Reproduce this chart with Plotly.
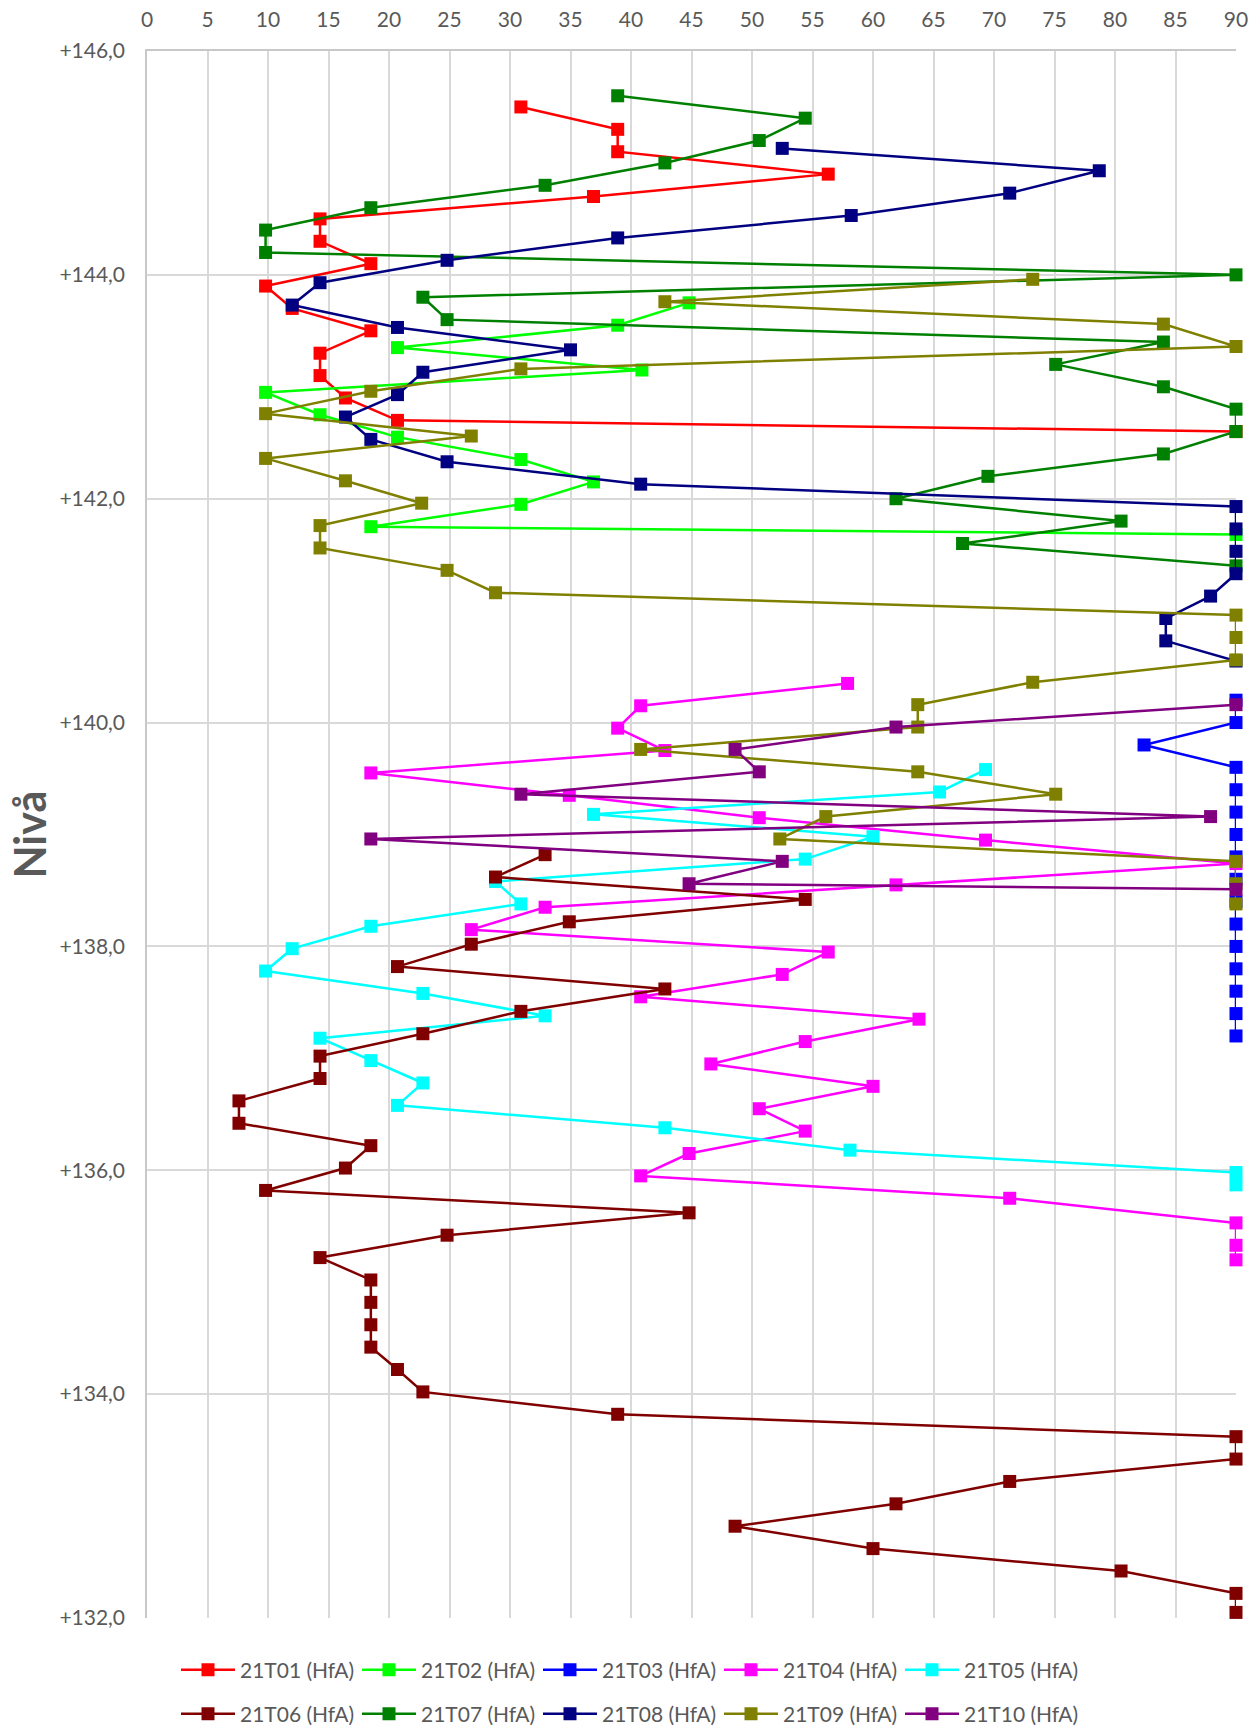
import plotly.graph_objects as go

# ---------------- data ----------------
names = ["21T01 (HfA)", "21T02 (HfA)", "21T03 (HfA)", "21T04 (HfA)", "21T05 (HfA)",
         "21T06 (HfA)", "21T07 (HfA)", "21T08 (HfA)", "21T09 (HfA)", "21T10 (HfA)"]
colors = ["#FF0000", "#00FF00", "#0000FF", "#FF00FF", "#00FFFF",
          "#800000", "#008000", "#000080", "#808000", "#800080"]

t01_x = [30.9, 38.9, 38.9, 56.3, 36.9, 14.3, 14.3, 18.5, 9.8, 12.0, 18.5, 14.3, 14.3, 16.4, 20.7, 90]
t01_y = [145.5, 145.3, 145.1, 144.9, 144.7, 144.5, 144.3, 144.1, 143.9, 143.7, 143.5, 143.3, 143.1,
         142.9, 142.7, 142.6]

t02_x = [44.8, 38.9, 20.7, 40.9, 9.8, 14.3, 20.7, 30.9, 36.9, 30.9, 18.5, 90]
t02_y = [143.75, 143.55, 143.35, 143.15, 142.95, 142.75, 142.55, 142.35, 142.15, 141.95, 141.75, 141.68]

t03_x = [90, 90, 82.4, 90, 90, 90, 90, 90, 90, 90, 90, 90, 90, 90, 90, 90]
t03_y = [140.2, 140.0, 139.8, 139.6, 139.4, 139.2, 139.0, 138.8, 138.6, 138.4, 138.2, 138.0, 137.8,
         137.6, 137.4, 137.2]

t04_x = [57.9, 40.8, 38.9, 42.8, 18.5, 34.9, 50.6, 69.3, 90, 61.9, 32.9, 26.8, 56.3, 52.5, 40.8,
         63.8, 54.4, 46.6, 60.0, 50.6, 54.4, 44.8, 40.8, 71.3, 90, 90, 90]
t04_y = [140.35, 140.15, 139.95, 139.75, 139.55, 139.35, 139.15, 138.95, 138.74, 138.55, 138.35,
         138.15, 137.95, 137.75, 137.55, 137.35, 137.15, 136.95, 136.75, 136.55, 136.35, 136.15,
         135.95, 135.75, 135.53, 135.33, 135.2]

t05_x = [69.3, 65.5, 36.9, 60.0, 54.4, 28.8, 30.9, 18.5, 12.0, 9.8, 22.8, 32.9, 14.3, 18.5, 22.8,
         20.7, 42.8, 58.1, 90, 90]
t05_y = [139.58, 139.38, 139.18, 138.98, 138.78, 138.58, 138.38, 138.18, 137.98, 137.78, 137.58,
         137.38, 137.18, 136.98, 136.78, 136.58, 136.38, 136.18, 135.98, 135.87]

t06_x = [32.9, 28.8, 54.4, 34.9, 26.8, 20.7, 42.8, 30.9, 22.8, 14.3, 14.3, 7.6, 7.6, 18.5, 16.4,
         9.8, 44.8, 24.8, 14.3, 18.5, 18.5, 18.5, 18.5, 20.7, 22.8, 38.9, 90, 90, 71.3, 61.9, 48.6,
         60.0, 80.5, 90, 90]
t06_y = [138.82, 138.62, 138.42, 138.22, 138.02, 137.82, 137.62, 137.42, 137.22, 137.02, 136.82,
         136.62, 136.42, 136.22, 136.02, 135.82, 135.62, 135.42, 135.22, 135.02, 134.82, 134.62,
         134.42, 134.22, 134.02, 133.82, 133.62, 133.42, 133.22, 133.02, 132.82, 132.62, 132.42,
         132.22, 132.05]

t07_x = [38.9, 54.4, 50.6, 42.8, 32.9, 18.5, 9.8, 9.8, 90, 22.8, 24.8, 84.0, 75.1, 84.0, 90, 90,
         84.0, 69.5, 61.9, 80.5, 67.4, 90]
t07_y = [145.6, 145.4, 145.2, 145.0, 144.8, 144.6, 144.4, 144.2, 144.0, 143.8, 143.6, 143.4, 143.2,
         143.0, 142.8, 142.6, 142.4, 142.2, 142.0, 141.8, 141.6, 141.4]

t08_x = [52.5, 78.7, 71.3, 58.2, 38.9, 24.8, 14.3, 12.0, 20.7, 35.0, 22.8, 20.7, 16.4, 18.5, 24.8,
         40.8, 90, 90, 90, 90, 87.9, 84.2, 84.2, 90]
t08_y = [145.13, 144.93, 144.73, 144.53, 144.33, 144.13, 143.93, 143.73, 143.53, 143.33, 143.13,
         142.93, 142.73, 142.53, 142.33, 142.13, 141.93, 141.73, 141.53, 141.33, 141.13, 140.93,
         140.73, 140.55]

t09_x = [73.2, 42.8, 84.0, 90, 30.9, 18.5, 9.8, 26.8, 9.8, 16.4, 22.7, 14.3, 14.3, 24.8, 28.8, 90,
         90, 90, 73.2, 63.7, 63.7, 40.8, 63.7, 75.1, 56.1, 52.3, 90, 90, 90]
t09_y = [143.96, 143.76, 143.56, 143.36, 143.16, 142.96, 142.76, 142.56, 142.36, 142.16, 141.96,
         141.76, 141.56, 141.36, 141.16, 140.96, 140.76, 140.56, 140.36, 140.16, 139.96, 139.76,
         139.56, 139.36, 139.16, 138.96, 138.76, 138.56, 138.38]

t10_x = [90, 61.9, 48.6, 50.6, 30.9, 87.9, 18.5, 52.5, 44.8, 90]
t10_y = [140.16, 139.96, 139.76, 139.56, 139.36, 139.16, 138.96, 138.76, 138.56, 138.51]

y_tickvals = [132, 134, 136, 138, 140, 142, 144, 146]
y_ticktext = ["+132,0", "+134,0", "+136,0", "+138,0", "+140,0", "+142,0", "+144,0", "+146,0"]
y_title = "Nivå"

series_x = [t01_x, t02_x, t03_x, t04_x, t05_x, t06_x, t07_x, t08_x, t09_x, t10_x]
series_y = [t01_y, t02_y, t03_y, t04_y, t05_y, t06_y, t07_y, t08_y, t09_y, t10_y]

# ---------------- figure ----------------
FONT = "Lato, 'Open Sans', sans-serif"
TXT = "#595959"

fig = go.Figure()
for i, (nm, c, xs, ys) in enumerate(zip(names, colors, series_x, series_y)):
    fig.add_trace(go.Scatter(
        x=xs, y=ys, name=nm, mode="lines+markers",
        line=dict(color=c, width=2.5),
        marker=dict(symbol="square", size=13, color=c),
        cliponaxis=False,
        legend="legend" if i < 5 else "legend2",
    ))

W, H = 1260, 1728
L, R, T, B = 147, 24, 51, 110
pw, ph = W - L - R, H - T - B

legend_common = dict(
    orientation="h", xanchor="left", yanchor="middle",
    xref="container", yref="container",
    font=dict(family=FONT, size=21, color=TXT),
    entrywidth=112, entrywidthmode="pixels", itemwidth=54,
    bgcolor="rgba(0,0,0,0)", tracegroupgap=0,
)

fig.update_layout(
    width=W, height=H,
    margin=dict(l=L, r=R, t=T, b=B, autoexpand=False),
    paper_bgcolor="white", plot_bgcolor="white",
    font=dict(family=FONT, color=TXT),
    showlegend=True,
    legend=dict(x=176 / W, y=1 - 1670 / H, **legend_common),
    legend2=dict(x=176 / W, y=1 - 1714 / H, **legend_common),
    xaxis=dict(
        side="top", range=[0, 90], dtick=5, tick0=0,
        showgrid=True, gridcolor="#d9d9d9", gridwidth=1.5,
        showline=True, linecolor="#c8c8c8", linewidth=1.5,
        zeroline=False, ticks="", automargin=False, ticklabelstandoff=14,
        tickfont=dict(family=FONT, size=21, color=TXT),
    ),
    yaxis=dict(
        range=[132, 146], tickvals=y_tickvals, ticktext=y_ticktext,
        showgrid=True, gridcolor="#d9d9d9", gridwidth=1.5,
        showline=True, linecolor="#c8c8c8", linewidth=1.5,
        zeroline=False, ticks="", automargin=False, ticklabelstandoff=16,
        tickfont=dict(family=FONT, size=21, color=TXT),
    ),
    annotations=[dict(
        text="<b>" + y_title + "</b>", textangle=-90,
        xref="paper", yref="paper", x=(29 - L) / pw, y=0.5,
        xanchor="center", yanchor="middle", showarrow=False,
        font=dict(family=FONT, size=43, color=TXT),
    )],
)

fig.write_html("out.html", config={"displayModeBar": False},
               post_script="document.body.style.margin='0px';")
